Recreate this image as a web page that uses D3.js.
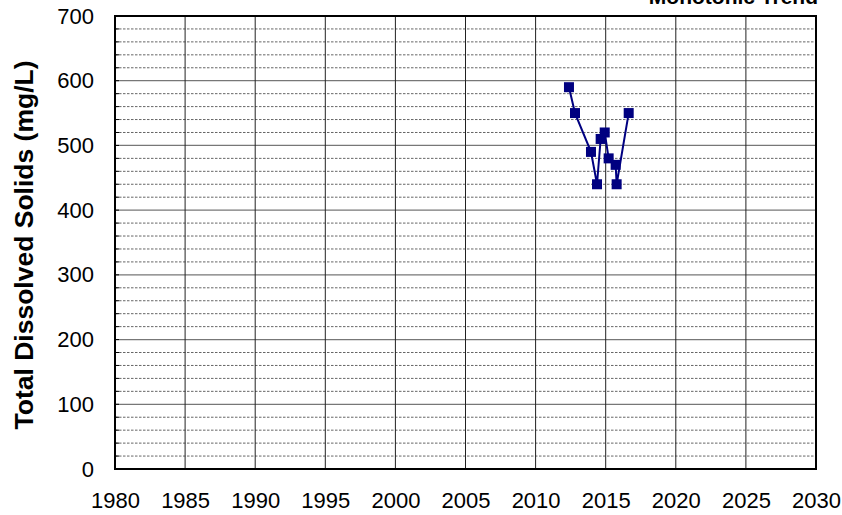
<!DOCTYPE html>
<html><head><meta charset="utf-8">
<script src="https://cdn.jsdelivr.net/npm/d3@7"></script>
<style>body{margin:0;background:#fff}svg{display:block}text{font-family:"Liberation Sans",Arial,sans-serif}</style>
</head><body>
<script>
const years = [2012.38, 2012.81, 2013.95, 2014.38, 2014.64, 2014.93, 2015.21, 2015.71, 2015.78, 2016.64];
const tds = [590, 550, 490, 440, 510, 520, 480, 470, 440, 550];
const xTicks = [1980, 1985, 1990, 1995, 2000, 2005, 2010, 2015, 2020, 2025, 2030];
const yTicks = [0, 100, 200, 300, 400, 500, 600, 700];
const yMinor = d3.range(0, 701, 20);
const title = "Monotonic Trend";
const yLabel = "Total Dissolved Solids (mg/L)";

const W = 842, H = 515;
const L = 115, R = 816, T = 16, B = 469;
const svg = d3.select("body").append("svg").attr("width", W).attr("height", H);
const x = d3.scaleLinear().domain([1980, 2030]).range([L, R]);
const y = d3.scaleLinear().domain([0, 700]).range([B, T]);

// minor dashed gridlines
svg.append("g").selectAll("line").data(yMinor.filter(v => v % 100 !== 0)).join("line")
  .attr("x1", L).attr("x2", R).attr("y1", d => y(d)).attr("y2", d => y(d))
  .attr("stroke", "#666").attr("stroke-width", 1).attr("stroke-dasharray", "2.5,1.5");
// major horizontal
svg.append("g").selectAll("line").data(yTicks).join("line")
  .attr("x1", L).attr("x2", R).attr("y1", d => y(d)).attr("y2", d => y(d))
  .attr("stroke", "#777").attr("stroke-width", 1.2);
// vertical
svg.append("g").selectAll("line").data(xTicks).join("line")
  .attr("x1", d => x(d)).attr("x2", d => x(d)).attr("y1", T).attr("y2", B)
  .attr("stroke", "#222").attr("stroke-width", 1);
// left minor ticks
svg.append("g").selectAll("line").data(yMinor).join("line")
  .attr("x1", L).attr("x2", L + 4).attr("y1", d => y(d)).attr("y2", d => y(d))
  .attr("stroke", "#000").attr("stroke-width", 1);
// frame
svg.append("rect").attr("x", L).attr("y", T).attr("width", R - L).attr("height", B - T)
  .attr("fill", "none").attr("stroke", "#000").attr("stroke-width", 2);

// axes labels
const yAxis = d3.axisLeft(y).tickValues(yTicks).tickSize(0).tickPadding(21);
const gy = svg.append("g").attr("transform", `translate(${L},0)`).call(yAxis);
gy.select(".domain").remove();
gy.selectAll("text").attr("font-size", 22).attr("fill", "#000").style("font-family", '"Liberation Sans",Arial,sans-serif');

const xAxis = d3.axisBottom(x).tickValues(xTicks).tickFormat(d3.format("d")).tickSize(0).tickPadding(23);
const gx = svg.append("g").attr("transform", `translate(0,${B})`).call(xAxis);
gx.select(".domain").remove();
gx.selectAll("text").attr("font-size", 22).attr("fill", "#000").style("font-family", '"Liberation Sans",Arial,sans-serif');

// series
const pts = years.map((yr, i) => [yr, tds[i]]);
svg.append("path").datum(pts)
  .attr("d", d3.line().x(d => x(d[0])).y(d => y(d[1])))
  .attr("fill", "none").attr("stroke", "#000080").attr("stroke-width", 2);
svg.append("g").selectAll("rect").data(pts).join("rect")
  .attr("x", d => x(d[0]) - 5).attr("y", d => y(d[1]) - 5)
  .attr("width", 10).attr("height", 10).attr("fill", "#000080");

// title (partially cut off at top, as in the reference)
svg.append("text").attr("x", 818).attr("y", 4).attr("text-anchor", "end")
  .attr("font-size", 21).attr("font-weight", "bold").text(title);

// y label
svg.append("text").attr("transform", `translate(33,245) rotate(-90)`)
  .attr("text-anchor", "middle").attr("font-size", 26.5).attr("font-weight", "bold").text(yLabel);
</script>
</body></html>
